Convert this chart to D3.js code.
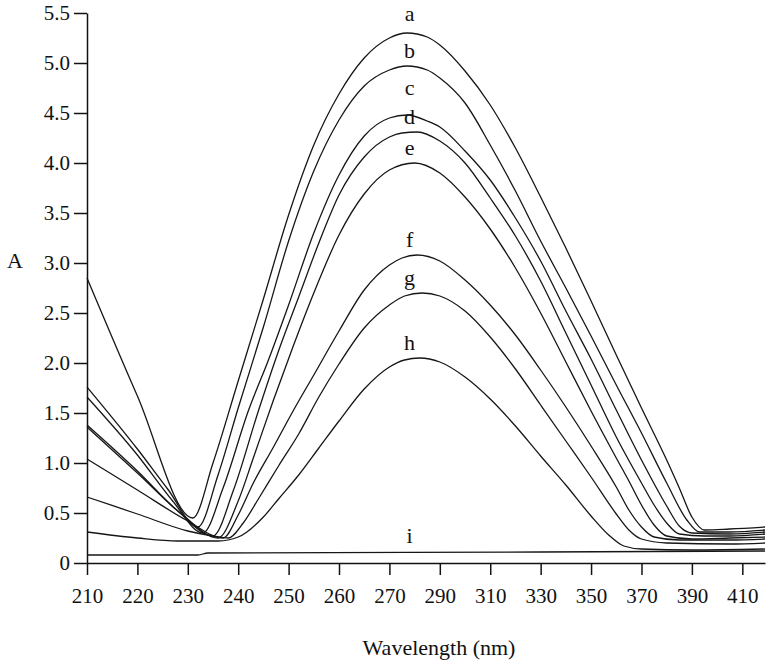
<!DOCTYPE html>
<html>
<head>
<meta charset="utf-8">
<script src="https://cdn.jsdelivr.net/npm/d3@7"></script>
<style>
    body { margin: 0; background: #fff; }
    .axis path, .axis line { stroke: #111; stroke-width: 1.5; }
</style>
</head>
<body>
<div id="spectra"></div>
<script>
// tick labels (the wavelength axis is uneven: steps of 10 nm then 20 nm)
let xTicks = [210, 220, 230, 240, 250, 260, 270, 290, 310, 330, 350, 370, 390, 410];
let yTicks = [0, 0.5, 1.0, 1.5, 2.0, 2.5, 3.0, 3.5, 4.0, 4.5, 5.0, 5.5];

// [wavelength nm, absorbance]
let curveA = [[210, 2.85], [220, 1.67], [231, 0.45], [235, 1.00], [240, 1.82], [245, 2.64], [250, 3.48], [255, 4.18], [260, 4.69], [265, 5.05], [270, 5.25], [277, 5.30], [285, 5.26], [290, 5.18], [300, 4.92], [310, 4.58], [320, 4.15], [330, 3.66], [340, 3.15], [350, 2.62], [360, 2.08], [370, 1.55], [380, 1.03], [385, 0.75], [390, 0.46], [395, 0.33], [405, 0.34], [419, 0.36]];
let curveB = [[210, 1.76], [220, 1.14], [226, 0.74], [232, 0.36], [236, 0.88], [240, 1.55], [245, 2.36], [250, 3.22], [255, 3.92], [260, 4.43], [265, 4.77], [270, 4.93], [277, 4.97], [285, 4.93], [290, 4.85], [300, 4.60], [310, 4.18], [320, 3.72], [330, 3.22], [340, 2.75], [350, 2.27], [360, 1.78], [370, 1.30], [380, 0.80], [388, 0.43], [393, 0.31], [405, 0.31], [419, 0.33]];
let curveC = [[210, 1.66], [220, 1.08], [227, 0.62], [233, 0.30], [237, 0.75], [242, 1.52], [246, 2.03], [250, 2.58], [255, 3.30], [260, 3.88], [265, 4.27], [270, 4.45], [277, 4.48], [285, 4.42], [290, 4.36], [300, 4.12], [310, 3.83], [320, 3.45], [330, 3.02], [340, 2.52], [350, 2.04], [360, 1.53], [370, 1.03], [380, 0.57], [385, 0.37], [390, 0.30], [405, 0.29], [419, 0.31]];
let curveD = [[210, 1.38], [220, 0.92], [228, 0.52], [235, 0.27], [239, 0.72], [244, 1.52], [248, 2.12], [252, 2.66], [256, 3.20], [260, 3.68], [265, 4.06], [270, 4.26], [275, 4.30], [281, 4.31], [290, 4.22], [300, 4.00], [310, 3.65], [320, 3.27], [330, 2.82], [340, 2.30], [350, 1.78], [360, 1.26], [370, 0.80], [375, 0.58], [380, 0.40], [385, 0.29], [395, 0.27], [405, 0.27], [419, 0.29]];
let curveE = [[210, 1.36], [220, 0.90], [229, 0.48], [236, 0.25], [240, 0.62], [243, 1.05], [247, 1.63], [251, 2.18], [255, 2.70], [260, 3.28], [265, 3.69], [270, 3.93], [280, 4.00], [290, 3.90], [300, 3.66], [310, 3.34], [320, 2.95], [330, 2.50], [340, 2.01], [350, 1.52], [360, 1.05], [365, 0.82], [370, 0.58], [375, 0.38], [380, 0.27], [390, 0.24], [405, 0.25], [419, 0.26]];
let curveF = [[210, 1.04], [220, 0.73], [230, 0.42], [237, 0.25], [240, 0.48], [243, 0.80], [247, 1.16], [251, 1.53], [255, 1.88], [260, 2.32], [265, 2.73], [270, 2.98], [275, 3.05], [281, 3.08], [290, 3.02], [300, 2.83], [310, 2.58], [320, 2.28], [330, 1.93], [340, 1.56], [350, 1.17], [360, 0.76], [365, 0.53], [370, 0.36], [375, 0.26], [385, 0.23], [405, 0.23], [419, 0.24]];
let curveG = [[210, 0.66], [220, 0.49], [230, 0.32], [235, 0.27], [238, 0.25], [241, 0.40], [244, 0.64], [248, 0.97], [252, 1.29], [256, 1.66], [260, 1.99], [265, 2.35], [270, 2.58], [276, 2.67], [283, 2.70], [290, 2.67], [300, 2.52], [310, 2.26], [320, 1.94], [330, 1.58], [340, 1.22], [350, 0.86], [360, 0.49], [365, 0.33], [370, 0.24], [380, 0.20], [405, 0.19], [419, 0.20]];
let curveH = [[210, 0.31], [220, 0.25], [228, 0.22], [236, 0.22], [240, 0.26], [245, 0.46], [248, 0.64], [252, 0.88], [256, 1.15], [260, 1.42], [265, 1.74], [270, 1.96], [276, 2.03], [282, 2.05], [290, 2.01], [300, 1.86], [310, 1.64], [320, 1.37], [330, 1.07], [340, 0.78], [350, 0.47], [357, 0.28], [363, 0.17], [370, 0.14], [390, 0.13], [419, 0.14]];
let curveI = [[210, 0.08], [232, 0.08], [234, 0.10], [330, 0.11], [419, 0.12]];

let curveNames = ["a", "b", "c", "d", "e", "f", "g", "h", "i"];
let curves = [curveA, curveB, curveC, curveD, curveE, curveF, curveG, curveH, curveI];

let canvasWidth = 771;
let canvasHeight = 670;
let xMargin = 87;
let yMargin = 13;
let width = 678;
let height = 550;
let tickStep = 50.4;
let serif = '"Liberation Serif", "Times New Roman", "DejaVu Serif", serif';

// label lift above each peak, px
let labelLift = { a: 12, c: 20 };

let svg = d3.select("div#spectra")
    .append("svg")
    .attr("width", canvasWidth)
    .attr("height", canvasHeight);

// piecewise scale so 210-270 and 290-410 get equal tick spacing
let xScale = d3.scaleLinear()
    .domain([210, 270, 419])
    .range([0, tickStep * 6, width]);
let yScale = d3.scaleLinear()
    .domain([0, 5.5])
    .range([height, 0]);

let container = svg.append("g")
    .attr("transform", "translate(" + xMargin + ", " + yMargin + ")");

// x axis
let xAxis = container.append("g")
    .attr("class", "axis")
    .attr("transform", "translate(0, " + height + ")")
    .call(d3.axisBottom(xScale)
        .tickValues(xTicks)
        .tickFormat(d3.format("d"))
        .tickSize(12)
        .tickPadding(13)
        .tickSizeOuter(0));

// y axis
let yAxis = container.append("g")
    .attr("class", "axis")
    .call(d3.axisLeft(yScale)
        .tickValues(yTicks)
        .tickFormat(d => d === 0 ? "0" : d.toFixed(1))
        .tickSize(13)
        .tickPadding(4)
        .tickSizeOuter(0));

[xAxis, yAxis].forEach(a => a.selectAll("text")
    .style("font-family", serif)
    .style("font-size", "21px")
    .style("fill", "#111"));

let line = d3.line()
    .x(d => xScale(d[0]))
    .y(d => yScale(d[1]))
    .curve(d3.curveMonotoneX);

curves.forEach((c, i) => {
    container.append("path")
        .datum(c)
        .attr("fill", "none")
        .attr("stroke", "#161616")
        .attr("stroke-width", 1.3)
        .attr("d", line);

    let name = curveNames[i];
    let peak = d3.max(c, d => d[1]);
    container.append("text")
        .attr("x", xScale(278))
        .attr("y", yScale(peak) - (labelLift[name] || 8))
        .attr("text-anchor", "middle")
        .style("font-family", serif)
        .style("font-size", "22px")
        .style("fill", "#111")
        .text(name);
});

// axis titles
svg.append("text")
    .attr("transform", "translate(" + (xMargin + width / 2 + 13) + ", 655)")
    .attr("text-anchor", "middle")
    .style("font-family", serif)
    .style("font-size", "22px")
    .style("fill", "#111")
    .text("Wavelength (nm)");

svg.append("text")
    .attr("transform", "translate(15, 268)")
    .attr("text-anchor", "middle")
    .style("font-family", serif)
    .style("font-size", "22px")
    .style("fill", "#111")
    .text("A");
</script>
</body>
</html>
